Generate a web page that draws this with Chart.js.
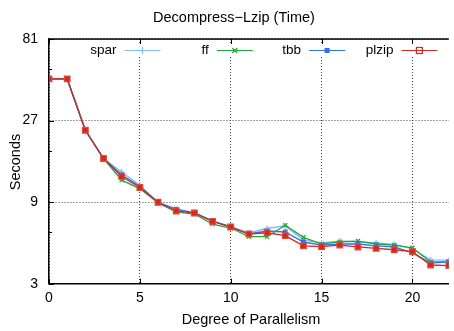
<!DOCTYPE html>
<html lang="en">
<head>
  <meta charset="UTF-8">
  <title>Decompress-Lzip (Time)</title>
  <script src="https://cdn.jsdelivr.net/npm/chart.js"></script>
  <style>
    html, body { margin: 0; padding: 0; background: #fff; }
    .chart-container { width: 454px; height: 331px; }
  </style>
</head>
<body>
  <div class="chart-container"><canvas id="timeChart" width="454" height="331"></canvas></div>

  <script>
    const degrees = [0, 1, 2, 3, 4, 5, 6, 7, 8, 9, 10, 11, 12, 13, 14, 15, 16, 17, 18, 19, 20, 21, 22];
    const spar  = [47.3, 47.3, 23.7, 16.2, 13.5, 11.3, 8.95, 8.1, 7.85, 6.97, 6.45, 5.94, 6.33, 6.53, 5.4, 5.2, 5.33, 5.26, 5.2, 5.09, 4.8, 4.14, 4.12];
    const ff    = [47.3, 47.3, 23.7, 16.2, 12.1, 10.8, 8.9, 7.9, 7.67, 6.7, 6.35, 5.65, 5.65, 6.59, 5.6, 5.12, 5.28, 5.33, 5.12, 5.05, 4.86, 4.02, 4.02];
    const tbb   = [47.3, 47.3, 23.7, 16.2, 13.0, 11.1, 8.98, 8.2, 7.8, 6.97, 6.44, 5.86, 6.1, 6.02, 5.26, 5.05, 5.12, 5.12, 5.0, 4.92, 4.54, 3.96, 4.02];
    const plzip = [47.3, 47.3, 23.7, 16.2, 12.7, 10.96, 8.98, 7.99, 7.77, 6.95, 6.44, 5.86, 5.96, 5.73, 4.99, 4.94, 5.05, 4.92, 4.83, 4.74, 4.62, 3.86, 3.83];

    const xTicks = [0, 5, 10, 15, 20];
    const yTicks = [3, 9, 27, 81];
    const yMinorTicks = [6, 18, 54];

    const FONT = "'Liberation Sans', Arial, sans-serif";

    function pts(values) {
      return values.map((v, i) => ({ x: degrees[i], y: v }));
    }

    const series = [
      { label: "spar",  color: "#7dbcf5", style: "cross",    radius: 3,   data: spar,  order: 3 },
      { label: "ff",    color: "#21a63a", style: "crossRot", radius: 3,   data: ff,    order: 2 },
      { label: "tbb",   color: "#2f6ff2", style: "rect",     radius: 2.5, data: tbb,   order: 1 },
      { label: "plzip", color: "#cf2a1d", style: "rect",     radius: 4,   data: plzip, order: 0 }
    ];

    // gnuplot-like decorations: title, axis titles, key, top border, inner ticks
    const gnuplotLook = {
      id: "gnuplotLook",
      afterDraw(chart) {
        const c = chart.ctx;
        const a = chart.chartArea;
        const xs = chart.scales.x, ys = chart.scales.y;
        c.save();

        // white box behind the key
        c.fillStyle = "#fff";
        c.fillRect(60, 44, 390, 12);

        c.strokeStyle = "#000";
        c.lineWidth = 1.5;
        c.beginPath();
        c.moveTo(a.left, a.top);
        c.lineTo(a.right, a.top);
        c.stroke();

        c.lineWidth = 1;
        c.beginPath();
        xTicks.forEach(v => {
          const px = Math.round(xs.getPixelForValue(v)) + 0.5;
          c.moveTo(px, a.bottom); c.lineTo(px, a.bottom - 5);
          c.moveTo(px, a.top); c.lineTo(px, a.top + 5);
        });
        yTicks.forEach(v => {
          const py = Math.round(ys.getPixelForValue(v)) + 0.5;
          c.moveTo(a.left, py); c.lineTo(a.left + 5, py);
        });
        yMinorTicks.forEach(v => {
          const py = Math.round(ys.getPixelForValue(v)) + 0.5;
          c.moveTo(a.left, py); c.lineTo(a.left + 3, py);
        });
        c.stroke();

        c.fillStyle = "#000";
        c.font = "14.5px " + FONT;
        c.textBaseline = "middle";
        c.textAlign = "center";
        c.fillText("Decompress\u2212Lzip (Time)", 234, 18);
        c.fillText("Degree of Parallelism", 251, 320);

        c.save();
        c.translate(16, 162);
        c.rotate(-Math.PI / 2);
        c.fillText("Seconds", 0, 0);
        c.restore();

        // key: text then line sample with marker
        c.font = "13.5px " + FONT;
        const keyY = 50;
        series.forEach((s, i) => {
          const textEnd = 116.5 + i * 92.3;
          c.fillStyle = "#000";
          c.textAlign = "right";
          c.fillText(s.label, textEnd, keyY);
          const x0 = textEnd + 8, x1 = textEnd + 44;
          c.strokeStyle = s.color;
          c.lineWidth = 1.2;
          c.beginPath();
          c.moveTo(x0, keyY + 0.5); c.lineTo(x1, keyY + 0.5);
          c.stroke();
          const mx = (x0 + x1) / 2;
          c.beginPath();
          if (s.label === "plzip") {
            c.strokeRect(mx - 3, keyY - 2.5, 6, 6);
          } else if (s.label === "tbb") {
            c.fillStyle = s.color;
            c.fillRect(mx - 2.5, keyY - 2, 5, 5);
          } else if (s.label === "ff") {
            c.moveTo(mx - 2.5, keyY - 2); c.lineTo(mx + 2.5, keyY + 3);
            c.moveTo(mx + 2.5, keyY - 2); c.lineTo(mx - 2.5, keyY + 3);
            c.stroke();
          } else {
            c.moveTo(mx, keyY - 3); c.lineTo(mx, keyY + 4);
            c.stroke();
          }
        });

        c.restore();
      }
    };

    const ctx = document.getElementById("timeChart").getContext("2d");
    new Chart(ctx, {
      type: "line",
      data: {
        datasets: series.map(s => ({
          label: s.label,
          data: pts(s.data),
          borderColor: s.color,
          backgroundColor: s.color,
          borderWidth: 1.3,
          pointStyle: s.style,
          pointRadius: s.radius,
          pointBorderWidth: 1.2,
          pointBorderColor: s.label === "plzip" ? "#e04a3c" : s.color,
          pointBackgroundColor: s.color,
          tension: 0,
          order: s.order
        }))
      },
      plugins: [gnuplotLook],
      options: {
        responsive: false,
        animation: false,
        devicePixelRatio: 1,
        layout: { padding: { top: 39, left: 0, right: 0, bottom: 0 } },
        plugins: {
          legend: { display: false },
          title: { display: false },
          tooltip: { enabled: false }
        },
        scales: {
          x: {
            type: "linear",
            min: 0,
            max: 22,
            afterBuildTicks: scale => { scale.ticks = xTicks.map(v => ({ value: v })); },
            afterFit: scale => { scale.height = 47.3; },
            ticks: {
              color: "#000",
              font: { family: FONT, size: 14 },
              padding: 6,
              maxRotation: 0
            },
            grid: { color: "#444", lineWidth: 1, drawTicks: false },
            border: { color: "#000", width: 1.5, dash: [1, 2] }
          },
          y: {
            type: "logarithmic",
            min: 3,
            max: 81,
            afterBuildTicks: scale => { scale.ticks = yTicks.map(v => ({ value: v })); },
            afterFit: scale => { scale.width = 49; },
            ticks: {
              color: "#000",
              font: { family: FONT, size: 14 },
              padding: 11,
              callback: v => String(v)
            },
            grid: { color: "#444", lineWidth: 1, drawTicks: false },
            border: { color: "#000", width: 1.5, dash: [1, 2] }
          }
        }
      }
    });
  </script>
</body>
</html>
